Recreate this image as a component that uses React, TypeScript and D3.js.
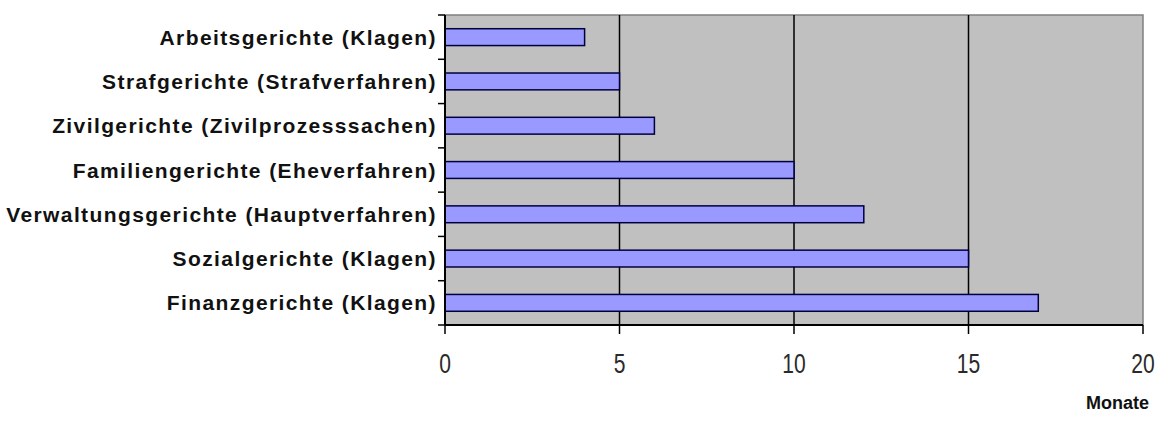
import React from "react";
import * as d3 from "d3";

const categories = [
  "Arbeitsgerichte (Klagen)",
  "Strafgerichte (Strafverfahren)",
  "Zivilgerichte (Zivilprozesssachen)",
  "Familiengerichte (Eheverfahren)",
  "Verwaltungsgerichte (Hauptverfahren)",
  "Sozialgerichte (Klagen)",
  "Finanzgerichte (Klagen)",
];
const values = [4, 5, 6, 10, 12, 15, 17];
const xTicks = [0, 5, 10, 15, 20];
const xTitle = "Monate";

export default function App() {
  const W = 1163, H = 430;
  const left = 445, right = 1143, top = 15, bottom = 325;
  const x = d3.scaleLinear().domain([0, 20]).range([left, right]);
  const y = d3.scaleBand().domain(categories).range([top, bottom]).paddingInner(0.62).paddingOuter(0.31);
  const bandStep = (bottom - top) / categories.length;
  return (
    <svg width={W} height={H} style={{ position: "absolute", left: 0, top: 0, background: "#fff" }}>
      <rect x={left} y={top} width={right - left} height={bottom - top} fill="#C0C0C0" stroke="#808080" strokeWidth={1.5} />
      {xTicks.slice(1, -1).map((t) => (
        <line key={t} x1={x(t)} x2={x(t)} y1={top} y2={bottom} stroke="#000" strokeWidth={1.5} />
      ))}
      {categories.map((c, i) => (
        <rect key={c} x={x(0)} y={y(c)} width={x(values[i]) - x(0)} height={y.bandwidth()}
          fill="#9999FF" stroke="#000040" strokeWidth={1.5} />
      ))}
      <line x1={left} x2={left} y1={top} y2={bottom} stroke="#000" strokeWidth={2} />
      <line x1={left} x2={right} y1={bottom} y2={bottom} stroke="#000" strokeWidth={2} />
      {d3.range(categories.length + 1).map((i) => (
        <line key={i} x1={left - 7} x2={left} y1={top + i * bandStep} y2={top + i * bandStep} stroke="#000" strokeWidth={1.5} />
      ))}
      {xTicks.map((t) => (
        <line key={t} x1={x(t)} x2={x(t)} y1={bottom} y2={bottom + 9} stroke="#000" strokeWidth={1.5} />
      ))}
      {categories.map((c) => (
        <text key={c} x={left - 8} y={(y(c) as number) + y.bandwidth() / 2} dy="0.36em" textAnchor="end"
          fontFamily="Liberation Sans, Arial, sans-serif" fontWeight="bold" fontSize={21} letterSpacing={1.4} fill="#111">{c}</text>
      ))}
      {xTicks.map((t) => (
        <text key={t} transform={`translate(${x(t)},363) scale(0.78,1)`} dy="0.36em" textAnchor="middle"
          fontFamily="Liberation Sans, Arial, sans-serif" fontWeight="normal" fontSize={27} fill="#2a2a2a">{t}</text>
      ))}
      <text x={1149} y={403} dy="0.36em" textAnchor="end" fontFamily="Liberation Sans, Arial, sans-serif"
        fontWeight="bold" fontSize={18} fill="#111">{xTitle}</text>
    </svg>
  );
}
